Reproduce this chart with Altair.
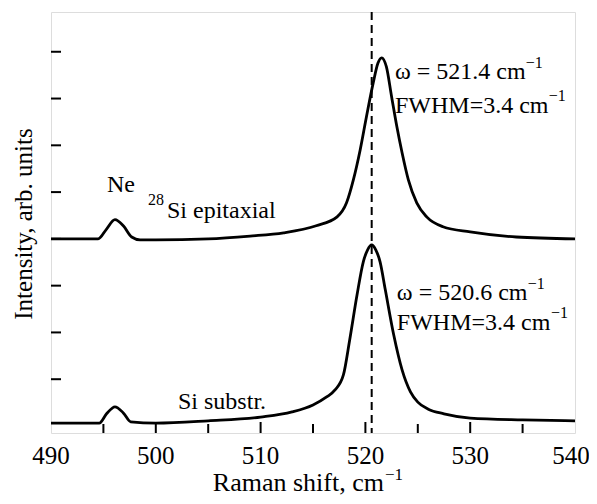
import altair as alt
import pandas as pd

# ---- data ----
x_upper = [490, 494.5, 495.3, 496.1, 496.9, 497.7, 498.5, 500, 505, 509,
           512.2, 515.3, 517.3, 518.2, 518.85, 519.5, 520.1, 520.75, 521.2, 521.55,
           522.0, 522.5, 523.0, 523.5, 524.1, 524.9, 525.85, 527.4, 530, 534.4, 540]
y_upper = [4.00, 4.00, 4.21, 4.41, 4.28, 4.04, 3.98, 3.98, 4.00, 4.06,
           4.13, 4.28, 4.47, 4.77, 5.26, 5.90, 6.61, 7.34, 7.76, 7.87,
           7.68, 7.04, 6.40, 5.84, 5.26, 4.77, 4.47, 4.26, 4.15, 4.04, 4.00]

x_lower = [490, 494.6, 495.3, 496.1, 496.9, 497.6, 500, 505, 510, 513,
           515, 516.3, 517.1, 517.9, 518.5, 519.2, 519.8, 520.2, 520.6, 521.0,
           521.4, 521.9, 522.7, 523.5, 524.3, 525, 526, 527.5, 530, 535, 540]
y_lower = [0.06, 0.06, 0.26, 0.41, 0.28, 0.09, 0.06, 0.11, 0.19, 0.30,
           0.45, 0.62, 0.77, 1.09, 1.84, 2.80, 3.51, 3.76, 3.87, 3.76,
           3.51, 2.91, 1.95, 1.20, 0.73, 0.51, 0.36, 0.26, 0.17, 0.13, 0.11]

peak_line_x = [520.6]
x_label_values = [490, 500, 510, 520, 530, 540]
x_major_ticks = [500, 510, 520, 530]
x_minor_ticks = [495, 505, 515, 525, 535]
y_tick_values = [1, 2, 3, 4, 5, 6, 7, 8]

ann_text = ["Ne", "28", "Si epitaxial", "Si substr.",
            "ω = 521.4 cm", "−1", "FWHM=3.4 cm", "−1",
            "ω = 520.6 cm", "−1", "FWHM=3.4 cm", "−1"]
ann_x = [495.34, 499.26, 501.07, 502.12,
         522.82, 535.3, 522.82, 537.5,
         523.0, 535.5, 523.0, 537.7]
ann_y = [5.01, 4.73, 4.45, 0.36,
         7.42, 7.66, 6.70, 6.95,
         2.70, 2.93, 2.05, 2.31]
ann_size = [24, 16, 24, 24,
            24, 16, 24, 16,
            24, 16, 24, 16]

x_title = ["Raman shift, cm"]
x_title_sup = ["−1"]
y_title = ["Intensity, arb. units"]

FONT = "Liberation Serif"
W, H = 524, 421

curves = pd.DataFrame({
    "shift": x_upper + x_lower,
    "intensity": y_upper + y_lower,
    "series": ["28Si epitaxial"] * len(x_upper) + ["Si substr."] * len(x_lower),
})

xscale = alt.Scale(domain=[490, 540], nice=False, zero=False)
yscale = alt.Scale(domain=[-0.15, 8.85], nice=False, zero=False)

X = alt.X("shift:Q", scale=xscale, axis=None)
Y = alt.Y("intensity:Q", scale=yscale, axis=None)

lines = alt.Chart(curves).mark_line(color="black", strokeWidth=2.8, interpolate="monotone").encode(
    x=X, y=Y, detail="series:N",
)

dashed = alt.Chart(pd.DataFrame({"shift": peak_line_x})).mark_rule(
    color="black", strokeWidth=2, strokeDash=[8, 5]
).encode(x=X)

xt_major = alt.Chart(pd.DataFrame({"shift": x_major_ticks})).mark_rule(color="black", strokeWidth=2).encode(
    x=X, y=alt.value(H), y2=alt.value(H - 11))
xt_minor = alt.Chart(pd.DataFrame({"shift": x_minor_ticks})).mark_rule(color="black", strokeWidth=2).encode(
    x=X, y=alt.value(H), y2=alt.value(H - 9))
yt = alt.Chart(pd.DataFrame({"intensity": y_tick_values})).mark_rule(color="black", strokeWidth=2).encode(
    y=Y, x=alt.value(0), x2=alt.value(10))

# tick labels of the x axis (the last one nudged so it stays inside the page)
lab_main = alt.Chart(pd.DataFrame({"shift": x_label_values[:-1]})).mark_text(
    align="center", baseline="alphabetic", font=FONT, fontSize=25, color="black"
).encode(x=X, y=alt.value(H + 31), text=alt.Text("shift:Q", format="d"))
lab_last = alt.Chart(pd.DataFrame({"shift": x_label_values[-1:]})).mark_text(
    align="center", baseline="alphabetic", font=FONT, fontSize=25, color="black", dx=-4
).encode(x=X, y=alt.value(H + 31), text=alt.Text("shift:Q", format="d"))

ann = alt.Chart(pd.DataFrame({"shift": ann_x, "intensity": ann_y, "t": ann_text, "s": ann_size})).mark_text(
    align="left", baseline="alphabetic", font=FONT, color="black"
).encode(
    x=X, y=Y, text="t:N",
    size=alt.Size("s:Q", scale=None, legend=None),
)

xt_main = alt.Chart(pd.DataFrame({"t": x_title})).mark_text(
    align="right", baseline="alphabetic", font=FONT, fontSize=26, color="black"
).encode(text="t:N", x=alt.value(333), y=alt.value(479))
xt_sup = alt.Chart(pd.DataFrame({"t": x_title_sup})).mark_text(
    align="left", baseline="alphabetic", font=FONT, fontSize=17, color="black"
).encode(text="t:N", x=alt.value(334), y=alt.value(468))
yt_main = alt.Chart(pd.DataFrame({"t": y_title})).mark_text(
    align="center", baseline="alphabetic", font=FONT, fontSize=25, color="black", angle=270
).encode(text="t:N", x=alt.value(-19), y=alt.value(212))

chart = alt.layer(lines, dashed, xt_major, xt_minor, yt, lab_main, lab_last, ann,
                  xt_main, xt_sup, yt_main).properties(
    width=W, height=H,
    autosize=alt.AutoSizeParams(type="none"),
    padding={"left": 43, "top": 4, "right": 14, "bottom": 63},
).configure_view(stroke="black", strokeWidth=2.5).configure(background="white")

chart.save("out.html", embed_options={"renderer": "svg", "actions": False})
